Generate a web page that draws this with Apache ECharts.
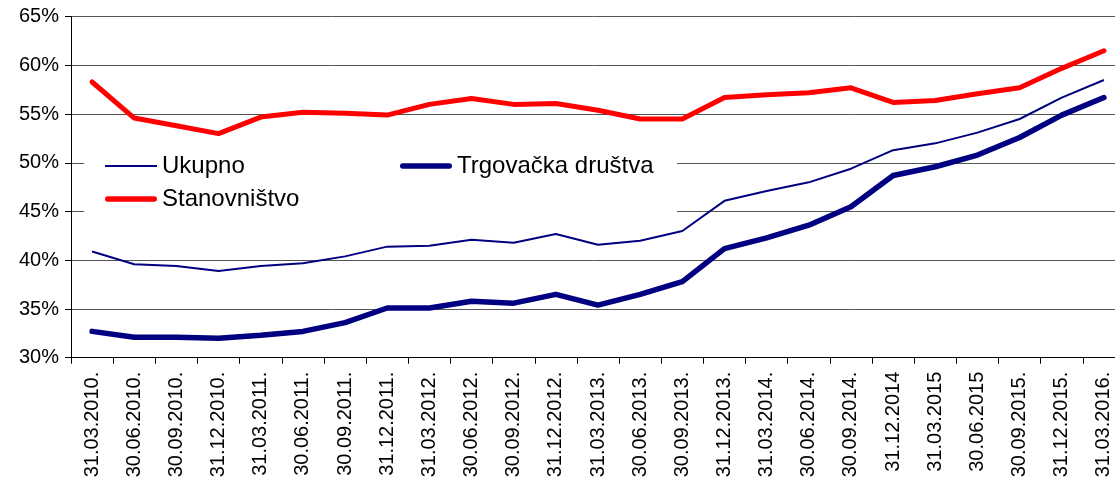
<!DOCTYPE html>
<html>
<head>
<meta charset="utf-8">
<script src="https://cdn.jsdelivr.net/npm/echarts@6/dist/echarts.min.js"></script>
<style>
  html, body { margin: 0; padding: 0; background: #fff; }
  #chart { width: 1115px; height: 485px; }
</style>
</head>
<body>
<div id="chart"></div>
<script>
// Quarter-end dates
const categories = [
  '31.03.2010.', '30.06.2010.', '30.09.2010.', '31.12.2010.',
  '31.03.2011.', '30.06.2011.', '30.09.2011.', '31.12.2011.',
  '31.03.2012.', '30.06.2012.', '30.09.2012.', '31.12.2012.',
  '31.03.2013.', '30.06.2013.', '30.09.2013.', '31.12.2013.',
  '31.03.2014.', '30.06.2014.', '30.09.2014.', '31.12.2014',
  '31.03.2015', '30.06.2015', '30.09.2015.', '31.12.2015.',
  '31.03.2016.'
];

// Shares in percent
const ukupno = [
  40.9, 39.6, 39.4, 38.9, 39.4, 39.7, 40.4, 41.4,
  41.5, 42.1, 41.8, 42.7, 41.6, 42.0, 43.0, 46.1,
  47.1, 48.0, 49.4, 51.3, 52.0, 53.1, 54.5, 56.7,
  58.5
];
const trgovackaDrustva = [
  32.7, 32.1, 32.1, 32.0, 32.3, 32.7, 33.6, 35.1,
  35.1, 35.8, 35.6, 36.5, 35.4, 36.5, 37.8, 41.2,
  42.3, 43.6, 45.5, 48.7, 49.6, 50.8, 52.6, 54.9,
  56.7
];
const stanovnistvo = [
  58.3, 54.6, 53.8, 53.0, 54.7, 55.2, 55.1, 54.9,
  56.0, 56.6, 56.0, 56.1, 55.4, 54.5, 54.5, 56.7,
  57.0, 57.2, 57.7, 56.2, 56.4, 57.1, 57.7, 59.7,
  61.5
];

// Y axis range and step
const yMin = 30;
const yMax = 65;
const yStep = 5;

const FONT = "'Liberation Sans', Arial, sans-serif";

// legend swatches: plain bars as thick as each series line
const THIN_SWATCH = 'path://M0,0H52V2H0Z';
const THICK_SWATCH = 'path://M2.5,0H49.5A2.5,2.5,0,0,1,49.5,5.5H2.5A2.5,2.5,0,0,1,2.5,0Z';

const chart = echarts.init(document.getElementById('chart'), null, { renderer: 'canvas' });

const legendText = { fontSize: 24, color: '#000', fontFamily: FONT };

chart.setOption({
  backgroundColor: '#ffffff',
  animation: false,
  textStyle: { fontFamily: FONT },
  grid: {
    left: 71,
    right: -10,
    top: 16.7,
    bottom: 127.3,
    containLabel: false,
    outerBoundsMode: 'none'
  },
  // white panel behind the legend that masks the grid lines
  graphic: [{
    type: 'rect',
    left: 84,
    top: 146,
    shape: { width: 593, height: 74 },
    style: { fill: '#ffffff' },
    z: 5
  }],
  legend: [
    {
      orient: 'vertical',
      left: 105,
      top: 154,
      padding: 0,
      itemGap: 9,
      itemWidth: 52,
      itemHeight: 14,
      symbolKeepAspect: true,
      data: [
        { name: 'Ukupno', icon: THIN_SWATCH },
        { name: 'Stanovništvo', icon: THICK_SWATCH }
      ],
      textStyle: legendText,
      z: 10
    },
    {
      orient: 'vertical',
      left: 400,
      top: 154,
      padding: 0,
      itemWidth: 52,
      itemHeight: 14,
      symbolKeepAspect: true,
      data: [
        { name: 'Trgovačka društva', icon: THICK_SWATCH }
      ],
      textStyle: legendText,
      z: 10
    }
  ],
  xAxis: {
    type: 'category',
    data: categories,
    boundaryGap: true,
    axisLine: { show: true, lineStyle: { color: '#000', width: 1 } },
    axisTick: { show: true, length: 6, inside: false, alignWithLabel: false, lineStyle: { color: '#000' } },
    axisLabel: {
      rotate: 90,
      interval: 0,
      margin: 14,
      fontSize: 20,
      color: '#000',
      fontFamily: FONT
    },
    splitLine: { show: false }
  },
  yAxis: {
    type: 'value',
    min: yMin,
    max: yMax,
    interval: yStep,
    axisLine: { show: true, lineStyle: { color: '#000', width: 1 } },
    axisTick: { show: true, length: 6, inside: false, lineStyle: { color: '#000' } },
    axisLabel: {
      formatter: '{value}%',
      margin: 12,
      fontSize: 20,
      color: '#000',
      fontFamily: FONT
    },
    splitLine: { show: true, lineStyle: { color: '#555', width: 1 } }
  },
  series: [
    {
      name: 'Ukupno',
      type: 'line',
      data: ukupno,
      symbol: 'none',
      lineStyle: { color: '#000080', width: 2 },
      itemStyle: { color: '#000080' },
      z: 3
    },
    {
      name: 'Trgovačka društva',
      type: 'line',
      data: trgovackaDrustva,
      symbol: 'none',
      lineStyle: { color: '#000080', width: 5.5, cap: 'round', join: 'round' },
      itemStyle: { color: '#000080' },
      z: 3
    },
    {
      name: 'Stanovništvo',
      type: 'line',
      data: stanovnistvo,
      symbol: 'none',
      lineStyle: { color: '#ff0000', width: 5, cap: 'round', join: 'round' },
      itemStyle: { color: '#ff0000' },
      z: 3
    }
  ]
});
</script>
</body>
</html>
